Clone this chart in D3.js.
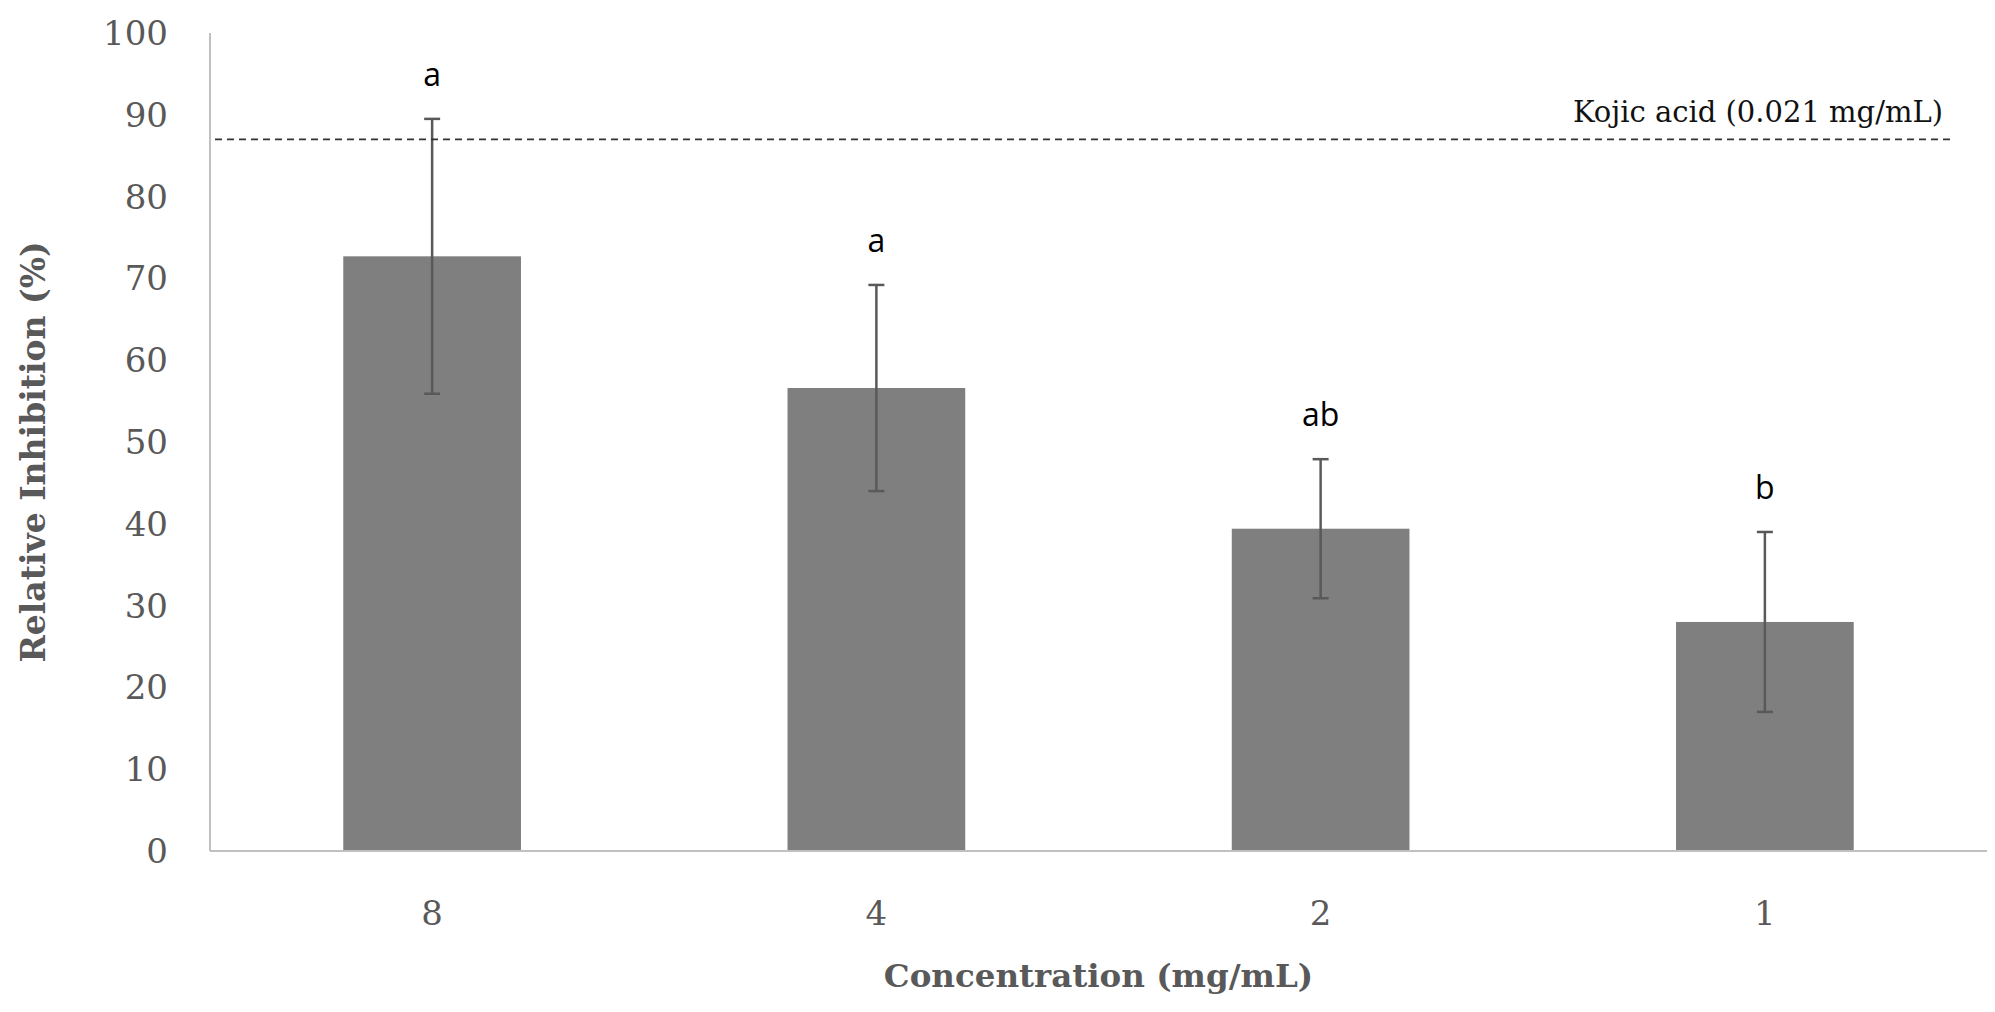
<!DOCTYPE html>
<html>
<head>
<meta charset="utf-8">
<script src="https://cdn.jsdelivr.net/npm/d3@7"></script>
<style>
  html, body { margin: 0; padding: 0; background: #fff; }
  svg { display: block; }
</style>
</head>
<body>
<svg id="chart" width="1995" height="1012"></svg>
<script>
const categories = ["8", "4", "2", "1"];
const means = [72.7, 56.6, 39.4, 28.0];
const errors = [16.8, 12.6, 8.5, 11.0];
const letters = ["a", "a", "ab", "b"];
const yTicks = [0, 10, 20, 30, 40, 50, 60, 70, 80, 90, 100];
const refValue = 87.0;
const refLabel = "Kojic acid (0.021 mg/mL)";
const xTitle = "Concentration (mg/mL)";
const yTitle = "Relative Inhibition (%)";

const svg = d3.select("#chart");
const pLeft = 210, pRight = 1987, pTop = 33, pBottom = 851;

const x = d3.scaleBand().domain(categories).range([pLeft, pRight]).padding(0);
const y = d3.scaleLinear().domain([0, 100]).range([pBottom, pTop]);
const barW = x.bandwidth() * 0.4;
const serif = "'DejaVu Serif', 'Liberation Serif', serif";

// y axis line
svg.append("line").attr("x1", pLeft).attr("x2", pLeft).attr("y1", pTop).attr("y2", pBottom)
  .attr("stroke", "#c0c0c0").attr("stroke-width", 2);

// y tick labels
svg.append("g").selectAll("text").data(yTicks).join("text")
  .attr("x", pLeft - 42).attr("y", d => y(d)).attr("dy", "0.35em")
  .attr("text-anchor", "end").attr("font-family", serif).attr("font-size", 34)
  .attr("fill", "#595959").text(d => d);

// bars
svg.append("g").selectAll("rect").data(categories).join("rect")
  .attr("x", d => x(d) + x.bandwidth() / 2 - barW / 2)
  .attr("width", barW)
  .attr("y", (d, i) => y(means[i]))
  .attr("height", (d, i) => y(0) - y(means[i]))
  .attr("fill", "#7f7f7f");

// x axis line
svg.append("line").attr("x1", pLeft).attr("x2", pRight).attr("y1", pBottom).attr("y2", pBottom)
  .attr("stroke", "#c0c0c0").attr("stroke-width", 2);

// error bars
const eg = svg.append("g").attr("stroke", "#595959").attr("stroke-width", 2.5);
categories.forEach((c, i) => {
  const cx = x(c) + x.bandwidth() / 2;
  const y1 = y(means[i] + errors[i]), y2 = y(means[i] - errors[i]);
  eg.append("line").attr("x1", cx).attr("x2", cx).attr("y1", y1).attr("y2", y2);
  eg.append("line").attr("x1", cx - 8).attr("x2", cx + 8).attr("y1", y1).attr("y2", y1);
  eg.append("line").attr("x1", cx - 8).attr("x2", cx + 8).attr("y1", y2).attr("y2", y2);
});

// significance letters
svg.append("g").selectAll("text").data(categories).join("text")
  .attr("x", d => x(d) + x.bandwidth() / 2)
  .attr("y", (d, i) => y(means[i] + errors[i]) - 33)
  .attr("text-anchor", "middle").attr("font-family", "'Open Sans', 'Noto Sans', sans-serif")
  .attr("font-size", 32).attr("fill", "#000").text((d, i) => letters[i]);

// x tick labels
svg.append("g").selectAll("text").data(categories).join("text")
  .attr("x", d => x(d) + x.bandwidth() / 2).attr("y", 925)
  .attr("text-anchor", "middle").attr("font-family", serif).attr("font-size", 34)
  .attr("fill", "#595959").text(d => d);

// reference line
svg.append("line").attr("x1", pLeft + 5).attr("x2", 1952)
  .attr("y1", y(refValue)).attr("y2", y(refValue))
  .attr("stroke", "#333").attr("stroke-width", 1.6).attr("stroke-dasharray", "7,5");
svg.append("text").attr("x", 1943).attr("y", 122).attr("text-anchor", "end")
  .attr("font-family", serif).attr("font-size", 29).attr("fill", "#111").text(refLabel);

// axis titles
svg.append("text").attr("x", (pLeft + pRight) / 2).attr("y", 987).attr("text-anchor", "middle")
  .attr("font-family", serif).attr("font-weight", "bold").attr("font-size", 32.5)
  .attr("fill", "#595959").text(xTitle);
svg.append("text").attr("transform", `translate(45, ${(pTop + pBottom) / 2 + 10}) rotate(-90)`)
  .attr("text-anchor", "middle").attr("font-family", serif).attr("font-weight", "bold")
  .attr("font-size", 33).attr("fill", "#595959").text(yTitle);
</script>
</body>
</html>
